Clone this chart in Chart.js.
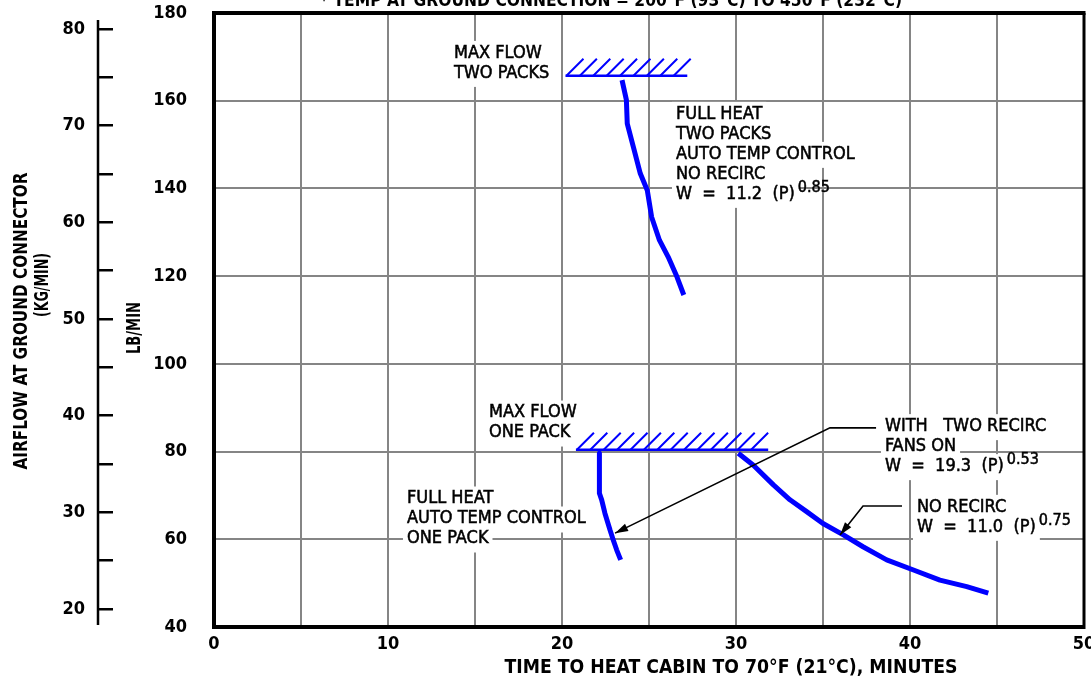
<!DOCTYPE html>
<html>
<head>
<meta charset="utf-8">
<script src="https://cdn.jsdelivr.net/npm/chart.js@4/dist/chart.umd.min.js"></script>
<style>
  html, body { margin: 0; padding: 0; background: #fff; }
  canvas { display: block; }
</style>
</head>
<body>
<canvas id="chart" width="1091" height="684"></canvas>
<script>
// Axis marks (minutes, lb/min, kg/min)
const xGrid = [0, 5, 10, 15, 20, 25, 30, 35, 40, 45, 50];
const xTickLabels = [0, 10, 20, 30, 40, 50];
const lbGrid = [40, 60, 80, 100, 120, 140, 160, 180];
const kgMarks = [20, 25, 30, 35, 40, 45, 50, 55, 60, 65, 70, 75, 80];
const kgTickLabels = [20, 30, 40, 50, 60, 70, 80];

// Full heat, two packs, auto temp control, no recirc
const twoPackTime = [23.45, 23.7, 23.75, 24.1, 24.5, 24.9, 25.15, 25.6, 26.1, 26.6, 27.0];
const twoPackFlow = [164.7, 160.2, 154.8, 149.5, 143.4, 139.6, 133.5, 128.2, 124.4, 119.9, 115.7];

// Full heat, auto temp control, one pack
const onePackTime = [22.15, 22.15, 22.28, 22.47, 22.76, 22.95, 23.14, 23.37];
const onePackFlow = [79.6, 70.5, 69.0, 65.9, 62.1, 59.8, 57.6, 55.3];

// One pack, recirc fans on / no recirc
const recircTime = [30.13, 31.0, 32.15, 33.1, 34.06, 35.0, 36.17, 37.3, 38.66, 40.2, 41.72, 43.26, 44.5];
const recircFlow = [79.6, 76.9, 72.4, 69.0, 66.3, 63.6, 61.0, 58.3, 55.3, 53.0, 50.7, 49.2, 47.7];

// Max flow limits
const twoPackLimitTime = [20.2, 27.2];
const twoPackLimitFlow = [165.7, 165.7];
const onePackLimitTime = [20.8, 31.85];
const onePackLimitFlow = [80.4, 80.4];

const LB_PER_KG = 2.20462;
const BLUE = '#0000ff';
const GRID = '#858585';
const FONT = '"DejaVu Sans Condensed", "DejaVu Sans", sans-serif';

const pts = (xs, ys) => xs.map((v, i) => ({ x: v, y: ys[i] }));

// Text blocks, anchored in chart units (minutes, lb/min) at the first line's left/middle
const notes = [
  { t: 13.79, v: 170.9, lines: ['MAX FLOW', 'TWO PACKS'] },
  { t: 26.55, v: 157.0, lines: ['FULL HEAT', 'TWO PACKS', 'AUTO TEMP CONTROL', 'NO RECIRC', ['W  =  11.2  (P)', '0.85']] },
  { t: 15.80, v: 88.9, lines: ['MAX FLOW', 'ONE PACK'] },
  { t: 11.09, v: 69.3, lines: ['FULL HEAT', 'AUTO TEMP CONTROL', 'ONE PACK'] },
  { t: 38.56, v: 85.8, lines: ['WITH   TWO RECIRC', 'FANS ON', ['W  =  19.3  (P)', '0.53']] },
  { t: 40.40, v: 67.4, lines: ['NO RECIRC', ['W  =  11.0  (P)', '0.75']] }
];

// Leader arrows: tail, knee, tip (minutes, lb/min)
const leaders = [
  [[38.05, 85.4], [35.40, 85.4], [23.05, 61.4]],
  [[39.54, 67.6], [37.30, 67.6], [35.98, 61.0]]
];

function fitText(ctx, text, x, y, width, rotate) {
  const w = ctx.measureText(text).width;
  const s = width ? width / w : 1;
  ctx.save();
  ctx.translate(x, y);
  if (rotate) ctx.rotate(-Math.PI / 2);
  ctx.scale(s, 1);
  ctx.textAlign = 'center';
  ctx.textBaseline = 'middle';
  ctx.fillText(text, 0, 0);
  ctx.restore();
}

function inkText(ctx, text, x, y) {
  ctx.fillText(text, x, y);
  ctx.strokeText(text, x, y);
}

function arrowHead(ctx, fx, fy, tx, ty) {
  const ang = Math.atan2(ty - fy, tx - fx);
  const len = 13, half = 4;
  ctx.beginPath();
  ctx.moveTo(tx, ty);
  ctx.lineTo(tx - len * Math.cos(ang) + half * Math.sin(ang), ty - len * Math.sin(ang) - half * Math.cos(ang));
  ctx.lineTo(tx - len * Math.cos(ang) - half * Math.sin(ang), ty - len * Math.sin(ang) + half * Math.cos(ang));
  ctx.closePath();
  ctx.fill();
}

const drawing = {
  id: 'drawing',
  beforeDatasetsDraw(chart) {
    const { ctx, chartArea: a } = chart;
    const { x, y } = chart.scales;
    ctx.save();
    // top and right edges of the frame
    ctx.strokeStyle = '#000';
    ctx.lineWidth = 4;
    ctx.beginPath(); ctx.moveTo(a.left - 2, a.top); ctx.lineTo(a.right + 1.5, a.top); ctx.stroke();
    ctx.lineWidth = 3;
    ctx.beginPath(); ctx.moveTo(a.right, a.top); ctx.lineTo(a.right, a.bottom + 2); ctx.stroke();

    // white backing behind the note text, then the text
    ctx.textBaseline = 'middle';
    ctx.textAlign = 'left';
    const items = [];
    for (const n of notes) {
      const px = x.getPixelForValue(n.t), py = y.getPixelForValue(n.v);
      n.lines.forEach((ln, i) => {
        const main = Array.isArray(ln) ? ln[0] : ln;
        ctx.font = '18px ' + FONT;
        const w = ctx.measureText(main).width;
        items.push({ main, sup: Array.isArray(ln) ? ln[1] : null, px, cy: py + i * 20, w });
      });
    }
    ctx.fillStyle = '#fff';
    for (const it of items) ctx.fillRect(it.px - 4, it.cy - 12, it.w + 8, 26);
    ctx.fillStyle = '#000';
    ctx.strokeStyle = '#000';
    ctx.lineWidth = 0.5;
    for (const it of items) {
      ctx.font = '18px ' + FONT;
      inkText(ctx, it.main, it.px, it.cy);
      if (it.sup) {
        ctx.font = '16px ' + FONT;
        inkText(ctx, it.sup, it.px + it.w + 3, it.cy - 6);
      }
    }
    ctx.restore();
  },
  afterDatasetsDraw(chart) {
    const { ctx } = chart;
    const { x, y } = chart.scales;
    ctx.save();
    // hatching on the max flow limits
    ctx.strokeStyle = BLUE;
    ctx.lineWidth = 2;
    for (const idx of [3, 4]) {
      const p = chart.getDatasetMeta(idx).data;
      const x0 = p[0].x, x1 = p[p.length - 1].x, yy = p[0].y;
      ctx.beginPath();
      for (let hx = x0 + 1; hx + 17 <= x1 + 6; hx += 13.4) {
        ctx.moveTo(hx, yy);
        ctx.lineTo(hx + 17, yy - 17);
      }
      ctx.stroke();
    }
    // leader arrows
    ctx.strokeStyle = '#000';
    ctx.fillStyle = '#000';
    ctx.lineWidth = 1.6;
    for (const L of leaders) {
      const P = L.map(([t, v]) => [x.getPixelForValue(t), y.getPixelForValue(v)]);
      ctx.beginPath();
      ctx.moveTo(P[0][0], P[0][1]);
      ctx.lineTo(P[1][0], P[1][1]);
      ctx.lineTo(P[2][0], P[2][1]);
      ctx.stroke();
      arrowHead(ctx, P[1][0], P[1][1], P[2][0], P[2][1]);
    }
    ctx.restore();
  },
  afterDraw(chart) {
    const { ctx, chartArea: a } = chart;
    const kg = chart.scales.kg;
    ctx.save();
    // kg/min axis line
    ctx.strokeStyle = '#000';
    ctx.lineWidth = 2.5;
    const ax = kg.right - 15;
    ctx.beginPath(); ctx.moveTo(ax, a.top + 7); ctx.lineTo(ax, a.bottom - 2); ctx.stroke();

    ctx.fillStyle = '#000';
    ctx.font = 'bold 19px ' + FONT;
    fitText(ctx, 'AIRFLOW AT GROUND CONNECTOR', 22, 321, 297, true);
    fitText(ctx, '(KG/MIN)', 43, 285, 64, true);
    fitText(ctx, 'LB/MIN', 135, 328, 52, true);
    fitText(ctx, 'TIME TO HEAT CABIN TO 70°F (21°C), MINUTES', 731, 668, 453, false);
    ctx.font = 'bold 18px ' + FONT;
    fitText(ctx, '* TEMP AT GROUND CONNECTION = 200°F (93°C) TO 450°F (232°C)', 611, 1, 582, false);
    ctx.restore();
  }
};

const tickFont = { family: FONT, size: 18, weight: 'bold' };

new Chart(document.getElementById('chart'), {
  type: 'scatter',
  data: {
    datasets: [
      { data: pts(twoPackTime, twoPackFlow), borderColor: BLUE, borderWidth: 5 },
      { data: pts(onePackTime, onePackFlow), borderColor: BLUE, borderWidth: 5 },
      { data: pts(recircTime, recircFlow), borderColor: BLUE, borderWidth: 5 },
      { data: pts(twoPackLimitTime, twoPackLimitFlow), borderColor: BLUE, borderWidth: 2.5 },
      { data: pts(onePackLimitTime, onePackLimitFlow), borderColor: BLUE, borderWidth: 2.5 }
    ].map(d => Object.assign(d, {
      showLine: true, pointRadius: 0, tension: 0,
      borderCapStyle: 'butt', borderJoinStyle: 'round', fill: false
    }))
  },
  options: {
    responsive: false,
    animation: false,
    layout: { padding: { top: 13, right: 7, left: 0, bottom: 0 } },
    plugins: { legend: { display: false }, tooltip: { enabled: false } },
    scales: {
      x: {
        type: 'linear', min: 0, max: 50, position: 'bottom',
        afterBuildTicks: s => { s.ticks = xGrid.map(v => ({ value: v })); },
        afterFit: s => { s.height = 57; s.paddingLeft = 0; s.paddingRight = 0; },
        ticks: {
          autoSkip: false, maxRotation: 0, padding: 7, color: '#000', font: tickFont,
          callback: v => xTickLabels.includes(v) ? String(v) : ''
        },
        grid: { color: GRID, lineWidth: 2, drawTicks: false },
        border: { color: '#000', width: 4 }
      },
      y: {
        type: 'linear', min: 40, max: 180, position: 'left', weight: 0,
        afterBuildTicks: s => { s.ticks = lbGrid.map(v => ({ value: v })); },
        afterFit: s => { s.width = 101; s.paddingTop = 0; s.paddingBottom = 0; },
        ticks: { autoSkip: false, padding: 27, color: '#000', font: tickFont },
        grid: { color: GRID, lineWidth: 2, drawTicks: false },
        border: { color: '#000', width: 4 }
      },
      kg: {
        type: 'linear', position: 'left', weight: 1,
        min: 40 / LB_PER_KG, max: 180 / LB_PER_KG,
        afterBuildTicks: s => { s.ticks = kgMarks.map(v => ({ value: v })); },
        afterFit: s => { s.width = 113; s.paddingTop = 0; s.paddingBottom = 0; },
        ticks: {
          autoSkip: false, padding: 13, color: '#000', font: tickFont,
          callback: v => kgTickLabels.includes(v) ? String(v) : ''
        },
        grid: { drawOnChartArea: false, drawTicks: true, tickLength: 15, color: '#000', lineWidth: 2.5 },
        border: { display: false }
      }
    }
  },
  plugins: [drawing]
});
</script>
</body>
</html>
